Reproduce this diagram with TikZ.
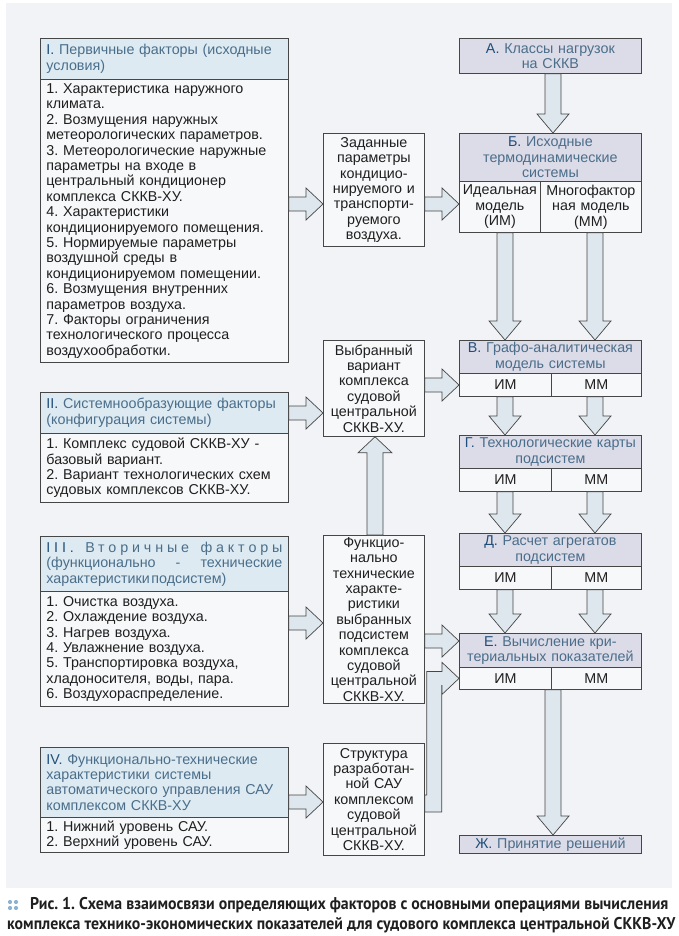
\documentclass[tikz,border=0pt]{standalone}
\usepackage{fontspec}
\setmainfont{Liberation Sans}
\newfontfamily\capfont[FakeStretch=0.93]{PT Sans}
\usetikzlibrary{calc}
\frenchspacing
\definecolor{panelc}{RGB}{242,243,247}
\definecolor{romanc}{RGB}{221,234,242}
\definecolor{letterc}{RGB}{220,219,232}
\definecolor{bodyc}{RGB}{247,248,250}
\definecolor{arrowc}{RGB}{221,231,237}
\definecolor{linec}{RGB}{70,70,70}
\definecolor{headtxt}{RGB}{74,110,138}
\definecolor{numtxt}{RGB}{32,78,122}
\definecolor{dotc}{RGB}{140,180,210}
\tikzset{
	box/.style={draw=linec, line width=0.8pt, anchor=north west, inner xsep=6pt, inner ysep=0pt, font=\fontsize{14.3}{15.4}\selectfont\frenchspacing, text=black!88},
	leftbox/.style={box, fill=bodyc, align=left},
	midbox/.style={box, fill=bodyc, align=center, inner xsep=2pt},
	romanhead/.style={box, fill=romanc, align=left, text=headtxt},
	letterhead/.style={box, fill=letterc, align=center, text=headtxt, inner xsep=2pt},
	cell/.style={box, fill=bodyc, align=center, inner xsep=2pt},
	blkarrow/.style={draw=linec, line width=0.7pt, fill=arrowc, line join=miter}
}
\def\downblk(#1)(#2){\draw[blkarrow] let \p1=(#1), \p2=(#2) in (\x1-8pt,\y1) -- (\x1-8pt,\y2+19pt) -- (\x1-16pt,\y2+19pt) -- (\x1,\y2) -- (\x1+16pt,\y2+19pt) -- (\x1+8pt,\y2+19pt) -- (\x1+8pt,\y1) -- cycle;}
\def\upblk(#1)(#2){\draw[blkarrow] let \p1=(#1), \p2=(#2) in (\x1-8pt,\y1) -- (\x1-8pt,\y2-16pt) -- (\x1-17pt,\y2-16pt) -- (\x1,\y2) -- (\x1+17pt,\y2-16pt) -- (\x1+8pt,\y2-16pt) -- (\x1+8pt,\y1) -- cycle;}
\def\rightblk(#1)(#2){\draw[blkarrow] let \p1=(#1), \p2=(#2) in (\x1,\y1+7pt) -- (\x2-17pt,\y1+7pt) -- (\x2-17pt,\y1+16pt) -- (\x2,\y1) -- (\x2-17pt,\y1-16pt) -- (\x2-17pt,\y1-7pt) -- (\x1,\y1-7pt) -- cycle;}
\newcommand\rn[1]{{\color{numtxt}#1}}

\begin{document}
\begin{tikzpicture}[x=1pt,y=-1pt]
				\useasboundingbox (0,0) rectangle (678,936);
				\fill[panelc] (6,3) rectangle (672,888);
				
				\coordinate (cIM) at (505,0);
				\coordinate (cMM) at (595,0);
				\coordinate (cMid) at (553,0);
				
				\node[romanhead, minimum width=248pt, minimum height=41pt, text width=236pt] (Ih) at (40,38) {\rn{I.} Первичные факторы (исходные\\условия)};
				\node[leftbox, minimum width=248pt, minimum height=283pt, text width=236pt] (Ib) at (40,79) {1. Характеристика наружного\\климата.\\2. Возмущения наружных\\метеорологических параметров.\\3. Метеорологические наружные\\параметры на входе в\\центральный кондиционер\\комплекса СККВ-ХУ.\\4. Характеристики\\кондиционируемого помещения.\\5. Нормируемые параметры\\воздушной среды в\\кондиционируемом помещении.\\6. Возмущения внутренних\\параметров воздуха.\\7. Факторы ограничения\\технологического процесса\\воздухообработки.};
				
				\node[romanhead, minimum width=248pt, minimum height=41pt, text width=236pt] (IIh) at (40,392) {\rn{II.} Системнообразующие факторы\\(конфигурация системы)};
				\node[leftbox, minimum width=248pt, minimum height=69pt, text width=236pt] (IIb) at (40,433) {1. Комплекс судовой СККВ-ХУ -\\базовый вариант.\\2. Вариант технологических схем\\судовых комплексов СККВ-ХУ.};
				
				\node[romanhead, minimum width=248pt, minimum height=55pt, text width=236pt] (IIIh) at (40,536) {\makebox[236pt]{\addfontfeature{LetterSpace=27}\rn{III.}\hfill Вторичные\hfill факторы}\\\makebox[236pt]{(функционально\hfill-\hfill технические}\\характеристики\hspace{1.5pt}подсистем)};
				\node[leftbox, minimum width=248pt, minimum height=115pt, text width=236pt] (IIIb) at (40,591) {1. Очистка воздуха.\\2. Охлаждение воздуха.\\3. Нагрев воздуха.\\4. Увлажнение воздуха.\\5. Транспортировка воздуха,\\хладоносителя, воды, пара.\\6. Воздухораспределение.};
				
				\node[romanhead, minimum width=248pt, minimum height=70pt, text width=236pt] (IVh) at (40,747) {\rn{IV.} Функционально-технические\\характеристики системы\\автоматического управления САУ\\комплексом СККВ-ХУ};
				\node[leftbox, minimum width=248pt, minimum height=35pt, text width=236pt] (IVb) at (40,817) {1. Нижний уровень САУ.\\2. Верхний уровень САУ.};
				
				\node[midbox, minimum width=101pt, minimum height=113pt, text width=97pt] (Z) at (323,133) {Заданные\\параметры\\кондицио-\\нируемого и\\транспорти-\\руемого\\воздуха.};
				\node[midbox, minimum width=101pt, minimum height=96pt, text width=97pt] (W) at (323,340) {Выбранный\\вариант\\комплекса\\судовой\\центральной\\СККВ-ХУ.};
				\node[midbox, minimum width=101pt, minimum height=168pt, text width=97pt] (F) at (323,535) {Функцио-\\нально\\технические\\характе-\\ристики\\выбранных\\подсистем\\комплекса\\судовой\\центральной\\СККВ-ХУ.};
				\node[midbox, minimum width=101pt, minimum height=112pt, text width=97pt] (S) at (323,743) {Структура\\разработан-\\ной САУ\\комплексом\\судовой\\центральной\\СККВ-ХУ.};
				
				\node[letterhead, minimum width=182pt, minimum height=35pt, text width=178pt] (A) at (459,38) {\rn{А.} Классы нагрузок\\на СККВ};
				\node[letterhead, minimum width=182pt, minimum height=48pt, text width=178pt] (Bh) at (459,133) {\rn{Б.} Исходные\\термодинамические\\системы};
				\node[cell, minimum width=81pt, minimum height=51pt, text width=77pt] (Bl) at (459,181) {Идеальная\\модель\\(ИМ)};
				\node[cell, minimum width=101pt, minimum height=51pt, text width=97pt] (Br) at (540,181) {Многофактор\\ная модель\\(ММ)};
				
				\node[letterhead, minimum width=182pt, minimum height=33pt, text width=178pt] (Vh) at (459,340) {\rn{В.} Графо-аналитическая\\модель системы};
				\node[cell, minimum width=92pt, minimum height=23pt, text width=88pt] (Vl) at (459,373) {ИМ};
				\node[cell, minimum width=90pt, minimum height=23pt, text width=86pt] (Vr) at (551,373) {ММ};
				
				\node[letterhead, minimum width=182pt, minimum height=33pt, text width=178pt] (Gh) at (459,435) {\rn{Г.} Технологические карты\\подсистем};
				\node[cell, minimum width=92pt, minimum height=23pt, text width=88pt] (Gl) at (459,468) {ИМ};
				\node[cell, minimum width=90pt, minimum height=23pt, text width=86pt] (Gr) at (551,468) {ММ};
				
				\node[letterhead, minimum width=182pt, minimum height=33pt, text width=178pt] (Dh) at (459,533) {\rn{Д.} Расчет агрегатов\\подсистем};
				\node[cell, minimum width=92pt, minimum height=23pt, text width=88pt] (Dl) at (459,566) {ИМ};
				\node[cell, minimum width=90pt, minimum height=23pt, text width=86pt] (Dr) at (551,566) {ММ};
				
				\node[letterhead, minimum width=182pt, minimum height=34pt, text width=178pt] (Eh) at (459,633) {\rn{Е.} Вычисление кри-\\териальных показателей};
				\node[cell, minimum width=92pt, minimum height=22pt, text width=88pt] (El) at (459,667) {ИМ};
				\node[cell, minimum width=90pt, minimum height=22pt, text width=86pt] (Er) at (551,667) {ММ};
				
				\node[letterhead, minimum width=182pt, minimum height=18pt, text width=178pt] (J) at (459,835) {\rn{Ж.} Принятие решений};
				
				\rightblk(Ib.east |- 0,204)(Z.west |- 0,204)
				\rightblk(Z.east |- 0,204)(Bl.west |- 0,204)
				\rightblk(IIh.east |- 0,413)(W.west |- 0,413)
				\rightblk(W.east |- 0,385)(Vl.west |- 0,385)
				\rightblk(IIIb.east |- 0,623)(F.west |- 0,623)
				\rightblk(F.east |- 0,641)(Eh.west |- 0,641)
				\rightblk(IVh.east |- 0,802)(S.west |- 0,802)
				\upblk(F.north -| 375,0)(W.south -| 375,0)
				
				\downblk(cMid |- A.south)(cMid |- Bh.north)
				\downblk(cIM |- Bl.south)(cIM |- Vh.north)
				\downblk(cMM |- Br.south)(cMM |- Vh.north)
				\downblk(cIM |- Vl.south)(cIM |- Gh.north)
				\downblk(cMM |- Vr.south)(cMM |- Gh.north)
				\downblk(cIM |- Gl.south)(cIM |- Dh.north)
				\downblk(cMM |- Gr.south)(cMM |- Dh.north)
				\downblk(cIM |- Dl.south)(cIM |- Eh.north)
				\downblk(cMM |- Dr.south)(cMM |- Eh.north)
				\downblk(cMid |- El.south)(cMid |- J.north)
				
				\draw[blkarrow] let \p1=(S.east), \p2=(El.west) in (\x1,-795pt) -- (\x1+2pt,-795pt) -- (\x1+2pt,\y2+7pt) -- (\x2-17pt,\y2+7pt) -- (\x2-17pt,\y2+16pt) -- (\x2,\y2) -- (\x2-17pt,\y2-16pt) -- (\x2-17pt,\y2-7pt) -- (\x1+17pt,\y2-7pt) -- (\x1+17pt,-812pt) -- (\x1,-812pt) -- cycle;
				
				\foreach \dx in {0,6} \foreach \dy in {0,6} \fill[dotc] (10+\dx,902+\dy) circle (2.1);
				\node[anchor=west, inner sep=0pt, font=\capfont\bfseries\fontsize{17}{19}\selectfont, text=black!88] (cap1) at (30,905) {Рис. 1. Схема взаимосвязи определяющих факторов с основными операциями вычисления};
				\node[anchor=west, inner sep=0pt, font=\capfont\bfseries\fontsize{17}{19}\selectfont, text=black!88] (cap2) at (7,925) {комплекса технико-экономических показателей для судового комплекса центральной СККВ-ХУ};
			\end{tikzpicture}
\end{document}
